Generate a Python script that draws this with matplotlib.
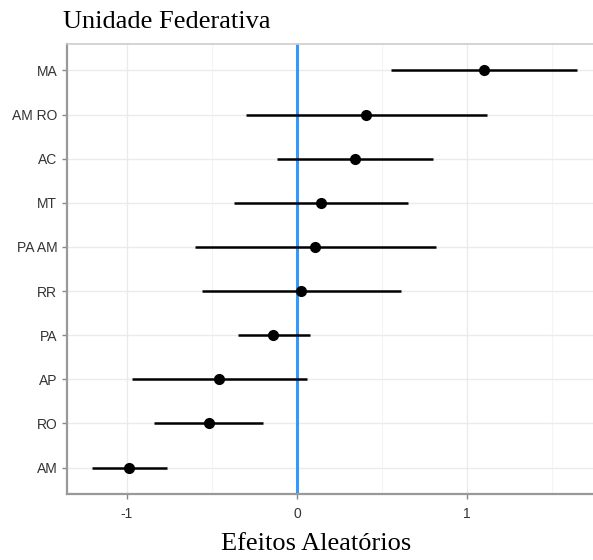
import matplotlib.pyplot as plt
import numpy as np

# categories, bottom to top
ufs = ["AM", "RO", "AP", "PA", "RR", "PA AM", "MT", "AC", "AM RO", "MA"]
efeito = [-0.987, -0.517, -0.456, -0.139, 0.022, 0.108, 0.139, 0.339, 0.407, 1.096]
li = [-1.204, -0.840, -0.969, -0.348, -0.560, -0.597, -0.370, -0.119, -0.299, 0.552]
ls = [-0.762, -0.198, 0.059, 0.076, 0.609, 0.814, 0.652, 0.797, 1.114, 1.646]

fig = plt.figure(figsize=(5.93, 5.60), dpi=100)
ax = fig.add_axes([67/593, 1 - 494/560, 1 - 67/593, (494 - 44)/560])

y = np.arange(len(ufs))

ax.axvline(0, color="#3399ff", lw=2.2, zorder=2)
ax.hlines(y, li, ls, color="black", lw=1.8, zorder=3)
ax.plot(efeito, y, "o", color="black", ms=7, zorder=4)

ax.set_xlim(-1.351, 1.739)
ax.set_ylim(-0.6, len(ufs) - 1 + 0.6)
ax.set_xticks([-1, 0, 1])
ax.set_xticklabels(["-1", "0", "1"])
ax.set_xticks([-0.5, 0.5, 1.5], minor=True)
ax.set_yticks(y)
ax.set_yticklabels(ufs)

ax.grid(True, which="major", color="#ebebeb", lw=1.0, zorder=0)
ax.grid(True, which="minor", axis="x", color="#f4f4f4", lw=0.8, zorder=0)
ax.set_axisbelow(True)

ax.tick_params(axis="both", which="major", length=3.5, width=1, color="#888888",
               labelcolor="#333333", labelsize=10,
               labelfontfamily="Liberation Sans")
ax.tick_params(axis="x", which="minor", length=0)
ax.tick_params(axis="x", pad=6)

for side in ["left", "bottom"]:
    ax.spines[side].set_color("#999999")
    ax.spines[side].set_linewidth(1.6)
ax.spines["top"].set_color("#cccccc")
ax.spines["top"].set_linewidth(1.2)
ax.spines["right"].set_visible(False)

fig.text(63/593, 1 - 22/560, "Unidade Federativa", family="Liberation Serif",
         fontsize=19, ha="left", va="center")
fig.text(316/593, 1 - 544/560, "Efeitos Aleatórios", family="Liberation Serif",
         fontsize=19, ha="center", va="center")

fig.savefig("out.png", dpi=100)
